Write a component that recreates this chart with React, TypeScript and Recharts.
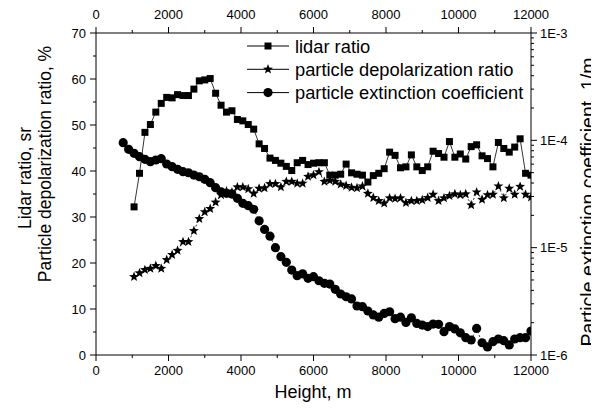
import { ComposedChart, Line, XAxis, YAxis } from 'recharts';

const FONT = '"Liberation Sans", Arial, Helvetica, sans-serif';

// heights of the lidar / depolarization profile, m
const heights = [
  1050, 1200, 1350, 1500, 1650, 1800, 1950, 2100, 2250, 2400, 2550, 2700, 2850, 3000, 3150, 3300,
  3450, 3600, 3750, 3900, 4050, 4200, 4350, 4500, 4650, 4800, 4950, 5100, 5250, 5400, 5550, 5700,
  5850, 6000, 6150, 6300, 6450, 6600, 6750, 6900, 7050, 7200, 7350, 7500, 7650, 7800, 7950, 8100,
  8250, 8400, 8550, 8700, 8850, 9000, 9150, 9300, 9450, 9600, 9750, 9900, 10050, 10200, 10350,
  10500, 10650, 10800, 10950, 11100, 11250, 11400, 11550, 11700, 11850, 12000,
];
// extinction starts a bit lower
const extHeights = [750, 900, ...heights];

const lidarRatio = [
  32.2, 39.5, 48.4, 50.1, 52.8, 54.7, 56.0, 55.9, 56.6, 56.4, 56.4, 57.8, 59.6, 59.8, 60.1, 56.9,
  54.3, 52.8, 53.1, 51.2, 50.9, 50.1, 49.1, 45.9, 44.9, 42.8, 42.3, 41.7, 41.0, 40.1, 41.8, 42.3,
  41.4, 41.7, 41.8, 41.8, 39.1, 39.1, 39.3, 41.5, 39.6, 39.3, 39.1, 37.6, 39.0, 39.5, 40.5, 44.1,
  43.4, 40.7, 40.9, 43.5, 40.9, 40.1, 40.9, 44.3, 43.8, 43.0, 46.4, 43.0, 43.7, 42.6, 45.3,
  45.7, 43.3, 42.7, 40.9, 46.2, 44.9, 44.1, 45.2, 47.0, 39.5, 39.1,
];

const depolRatio = [
  17.0, 17.8, 18.5, 18.8, 19.4, 18.8, 20.7, 21.8, 22.7, 24.6, 24.6, 27.0, 29.6, 31.1, 31.8, 33.2,
  34.8, 35.6, 35.4, 36.5, 36.5, 36.1, 35.1, 36.2, 36.3, 37.2, 37.2, 36.5, 37.7, 37.7, 37.3, 37.3,
  38.8, 39.1, 39.8, 37.7, 37.9, 37.7, 37.1, 36.8, 36.4, 36.3, 36.7, 35.1, 34.2, 33.5, 33.0, 34.1,
  34.0, 34.1, 33.1, 33.5, 33.5, 33.7, 34.2, 34.9, 33.5, 34.1, 34.6, 35.0, 34.8, 35.0, 32.6,
  35.4, 33.8, 34.8, 34.9, 36.7, 34.1, 36.2, 34.9, 36.6, 34.9, 34.3,
];

const extinction = [
  9.5e-5, 8.25e-5, 7.57e-5, 7.05e-5, 6.65e-5, 6.32e-5, 6.56e-5, 6.75e-5, 6.02e-5, 5.68e-5,
  5.37e-5, 5.1e-5, 4.99e-5, 4.75e-5, 4.58e-5, 4.33e-5, 4.03e-5, 3.62e-5, 3.32e-5, 3.21e-5,
  3.16e-5, 2.88e-5, 2.59e-5, 2.46e-5, 2.28e-5, 1.78e-5, 1.48e-5, 1.28e-5, 1.0e-5, 8.24e-6,
  7.3e-6, 6.19e-6, 5.48e-6, 5.7e-6, 5.18e-6, 5.37e-6, 4.92e-6, 4.65e-6, 4.58e-6, 4.09e-6,
  3.7e-6, 3.49e-6, 3.33e-6, 2.86e-6, 2.82e-6, 2.57e-6, 2.36e-6, 2.25e-6, 2.44e-6, 2.53e-6,
  2.18e-6, 2.25e-6, 2.01e-6, 2.22e-6, 1.97e-6, 1.9e-6, 1.84e-6, 1.94e-6, 1.93e-6, 1.65e-6,
  1.84e-6, 1.75e-6, 1.61e-6, 1.45e-6, 1.38e-6, 1.77e-6, 1.3e-6, 1.19e-6, 1.33e-6, 1.41e-6,
  1.36e-6, 1.24e-6, 1.41e-6, 1.45e-6, 1.45e-6, 1.67e-6,
];

const xTicks = [0, 1000, 2000, 3000, 4000, 5000, 6000, 7000, 8000, 9000, 10000, 11000, 12000];
const xLabels = [0, 2000, 4000, 6000, 8000, 10000, 12000];
const leftTicks = [0, 5, 10, 15, 20, 25, 30, 35, 40, 45, 50, 55, 60, 65, 70];
const leftLabels = [0, 10, 20, 30, 40, 50, 60, 70];
const rightTicks = [
  1e-6, 2e-6, 3e-6, 4e-6, 5e-6, 6e-6, 7e-6, 8e-6, 9e-6,
  1e-5, 2e-5, 3e-5, 4e-5, 5e-5, 6e-5, 7e-5, 8e-5, 9e-5,
  1e-4, 2e-4, 3e-4, 4e-4, 5e-4, 6e-4, 7e-4, 8e-4, 9e-4, 1e-3,
];
const rightLabels = [1e-6, 1e-5, 1e-4, 1e-3];
const rightLabelText = ['1E-6', '1E-5', '1E-4', '1E-3'];

const lidarData = heights.map((h, i) => ({ h, v: lidarRatio[i] }));
const depolData = heights.map((h, i) => ({ h, v: depolRatio[i] }));
const extData = extHeights.map((h, i) => ({ h, v: extinction[i] }));

const textStyle = { fontFamily: FONT, fontSize: 13, fill: '#000' };

const findLabel = (labels: number[], v: number) =>
  labels.findIndex(l => Math.abs(l - v) <= Math.abs(l) * 1e-6);

// draws tick line + label ourselves so majors and minors differ in length
function makeTick(side: 'bottom' | 'top' | 'left' | 'right', labels: number[], texts?: string[]) {
  return (props: any) => {
    const { x, y, payload } = props;
    const idx = findLabel(labels, payload.value);
    const major = idx >= 0;
    const len = major ? 6 : 3;
    const label = major ? (texts ? texts[idx] : String(labels[idx])) : '';
    if (side === 'bottom') {
      return (
        <g>
          <line x1={x} x2={x} y1={y} y2={y + len} stroke="#000" />
          {major && <text x={x} y={y + 15} textAnchor="middle" dominantBaseline="central" {...textStyle}>{label}</text>}
        </g>
      );
    }
    if (side === 'top') {
      return (
        <g>
          <line x1={x} x2={x} y1={y} y2={y - len} stroke="#000" />
          {major && <text x={x} y={y - 19} textAnchor="middle" dominantBaseline="central" {...textStyle}>{label}</text>}
        </g>
      );
    }
    if (side === 'left') {
      return (
        <g>
          <line x1={x - len} x2={x} y1={y} y2={y} stroke="#000" />
          {major && <text x={x - 10} y={y} textAnchor="end" dominantBaseline="central" {...textStyle}>{label}</text>}
        </g>
      );
    }
    return (
      <g>
        <line x1={x} x2={x + len} y1={y} y2={y} stroke="#000" />
        {major && <text x={x + 9} y={y} textAnchor="start" dominantBaseline="central" {...textStyle}>{label}</text>}
      </g>
    );
  };
}

const squareDot = (p: any) => (
  <rect key={`s${p.index}`} x={p.cx - 3.5} y={p.cy - 3.5} width={7} height={7} fill="#000" />
);

const starPoints = (cx: number, cy: number, ro: number, ri: number) => {
  const pts: string[] = [];
  for (let k = 0; k < 10; k++) {
    const r = k % 2 === 0 ? ro : ri;
    const a = (-90 + k * 36) * Math.PI / 180;
    pts.push(`${cx + r * Math.cos(a)},${cy + r * Math.sin(a)}`);
  }
  return pts.join(' ');
};

const starDot = (p: any) => (
  <polygon key={`t${p.index}`} points={starPoints(p.cx, p.cy, 5.2, 2.2)} fill="#000" />
);

const circleDot = (p: any) => (
  <circle key={`c${p.index}`} cx={p.cx} cy={p.cy} r={4.6} fill="#000" />
);

function LegendOverlay() {
  const rows = [
    { label: 'lidar ratio', shape: 'square' },
    { label: 'particle depolarization ratio', shape: 'star' },
    { label: 'particle extinction coefficient', shape: 'circle' },
  ];
  return (
    <g>
      {rows.map((r, i) => {
        const y = 38 + i * 23.3;
        const cx = 260;
        return (
          <g key={r.label}>
            <line x1={239} x2={281} y1={y} y2={y} stroke="#000" strokeWidth={1} />
            {r.shape === 'square' && <rect x={cx - 3.5} y={y - 3.5} width={7} height={7} fill="#000" />}
            {r.shape === 'star' && <polygon points={starPoints(cx, y, 5.2, 2.2)} fill="#000" />}
            {r.shape === 'circle' && <circle cx={cx} cy={y} r={4.6} fill="#000" />}
            <text x={287} y={y} dominantBaseline="central" fontFamily={FONT} fontSize={18.3} fill="#000">
              {r.label}
            </text>
          </g>
        );
      })}
    </g>
  );
}

export default function App() {
  return (
    <div style={{ position: 'relative', width: 591, height: 394 }}>
      <ComposedChart width={583} height={394} margin={{ top: 0, right: 0, bottom: 0, left: 0 }}>
        <XAxis
          xAxisId="bottom"
          dataKey="h"
          type="number"
          domain={[0, 12000]}
          allowDataOverflow
          ticks={xTicks}
          interval={0}
          height={47}
          tickSize={0}
          tickMargin={0}
          tickLine={false}
          axisLine={{ stroke: '#000' }}
          tick={makeTick('bottom', xLabels)}
        />
        <XAxis
          xAxisId="top"
          orientation="top"
          dataKey="h"
          type="number"
          domain={[0, 12000]}
          allowDataOverflow
          ticks={xTicks}
          interval={0}
          height={25}
          tickSize={0}
          tickMargin={0}
          tickLine={false}
          axisLine={{ stroke: '#000' }}
          tick={makeTick('top', xLabels)}
        />
        <YAxis
          yAxisId="left"
          type="number"
          domain={[0, 70]}
          allowDataOverflow
          ticks={leftTicks}
          interval={0}
          width={88}
          tickSize={0}
          tickMargin={0}
          tickLine={false}
          axisLine={{ stroke: '#000' }}
          tick={makeTick('left', leftLabels)}
        />
        <YAxis
          yAxisId="right"
          orientation="right"
          type="number"
          scale="log"
          domain={[1e-6, 1e-3]}
          allowDataOverflow
          ticks={rightTicks}
          interval={0}
          width={60}
          tickSize={0}
          tickMargin={0}
          tickLine={false}
          axisLine={{ stroke: '#000' }}
          tick={makeTick('right', rightLabels, rightLabelText)}
        />
        {/* invisible series so the top (mirrored) x axis gets drawn */}
        <Line
          xAxisId="top"
          yAxisId="left"
          data={lidarData}
          dataKey="v"
          stroke="none"
          dot={false}
          activeDot={false}
          isAnimationActive={false}
        />
        <Line
          xAxisId="bottom"
          yAxisId="left"
          data={lidarData}
          dataKey="v"
          type="linear"
          stroke="#000"
          strokeWidth={0.8}
          dot={squareDot}
          activeDot={false}
          isAnimationActive={false}
        />
        <Line
          xAxisId="bottom"
          yAxisId="left"
          data={depolData}
          dataKey="v"
          type="linear"
          stroke="#000"
          strokeWidth={0.8}
          strokeDasharray="2 2"
          dot={starDot}
          activeDot={false}
          isAnimationActive={false}
        />
        <Line
          xAxisId="bottom"
          yAxisId="right"
          data={extData}
          dataKey="v"
          type="linear"
          stroke="#000"
          strokeWidth={0.8}
          strokeDasharray="2 2"
          dot={circleDot}
          activeDot={false}
          isAnimationActive={false}
        />
      </ComposedChart>
      <svg
        width={591}
        height={394}
        style={{ position: 'absolute', left: 0, top: 0, pointerEvents: 'none' }}
      >
        <LegendOverlay />
        <text x={305} y={384} textAnchor="middle" dominantBaseline="central" fontFamily={FONT} fontSize={18} fill="#000">
          Height, m
        </text>
        <text
          transform="translate(17,170) rotate(-90)"
          textAnchor="middle"
          dominantBaseline="central"
          fontFamily={FONT}
          fontSize={17.5}
          fill="#000"
        >
          Lidar ratio, sr
        </text>
        <text
          transform="translate(37,156) rotate(-90)"
          textAnchor="middle"
          dominantBaseline="central"
          fontFamily={FONT}
          fontSize={17.5}
          fill="#000"
        >
          Particle depolarization ratio, %
        </text>
        <text
          transform="translate(580,194) rotate(-90)"
          textAnchor="middle"
          dominantBaseline="central"
          fontFamily={FONT}
          fontSize={19.5}
          fill="#000"
        >
          Particle extinction coefficient, 1/m
        </text>
      </svg>
    </div>
  );
}
